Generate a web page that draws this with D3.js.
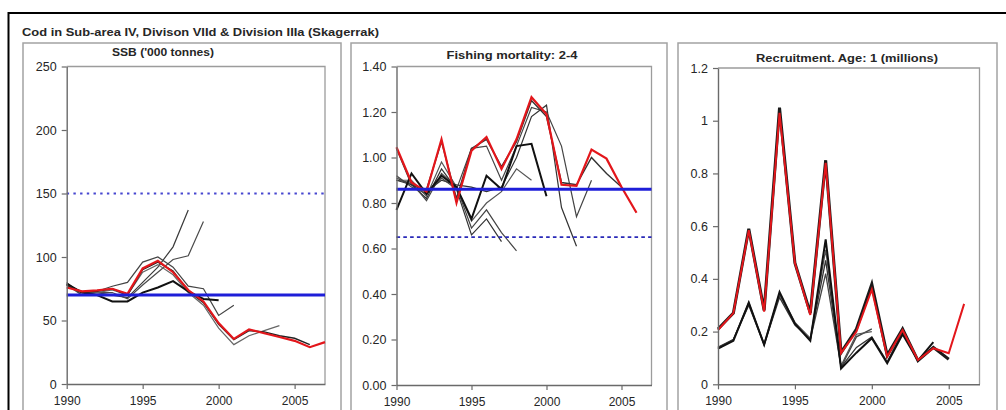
<!DOCTYPE html>
<html>
<head>
<meta charset="utf-8">
<script src="https://cdn.jsdelivr.net/npm/d3@7/dist/d3.min.js"></script>
<style>
  html, body { margin: 0; padding: 0; background: #fff; }
  svg { display: block; }
  text { font-family: "Liberation Sans", Arial, sans-serif; fill: #262626; }
</style>
</head>
<body>
<svg id="chart" width="1006" height="410"></svg>
<script>
// ---- Data -------------------------------------------------------------
const startYear = 1990;
const yearTicks = [1990, 1995, 2000, 2005];

// Spawning stock biomass ('000 tonnes), one array per assessment
const ssbLatest = [76, 73, 73.7, 75, 71, 91, 97, 88, 74, 65, 48, 35.5, 43, 40, 37, 34, 29, 33];
const ssbPrev   = [78, 72, 73, 75, 70, 90, 96, 89, 73, 64, 47, 35, 42, 41, 38, 36, 31];
const ssbR1998  = [79, 72, 72, 70, 68, 80, 92, 108, 137];
const ssbR1999  = [78, 70, 72, 72, 67, 78, 88, 98, 101, 128];
const ssbR2000  = [79, 72, 70, 65, 65, 72, 76, 81, 73, 67, 66];
const ssbR2001  = [80, 70, 73, 77, 80, 96, 100, 92, 77, 75, 54, 62];
const ssbR2004  = [78, 73, 72, 74, 70, 88, 94, 86, 72, 62, 44, 31, 38, 42, 46];
const ssbBlim = 70;
const ssbBpa = 150;
const ssbTicks = [0, 50, 100, 150, 200, 250];

// Fishing mortality, ages 2-4
const fLatest = [1.045, 0.89, 0.85, 1.08, 0.80, 1.03, 1.09, 0.95, 1.08, 1.265, 1.19, 0.88, 0.875, 1.035, 0.995, 0.87, 0.757];
const fPrev   = [1.04, 0.88, 0.86, 1.07, 0.82, 1.04, 1.08, 0.96, 1.07, 1.25, 1.18, 0.89, 0.88, 1.00, 0.93, 0.87];
const fR1997  = [0.91, 0.88, 0.82, 0.95, 0.86, 0.66, 0.73, 0.63];
const fR1998  = [0.90, 0.89, 0.81, 0.93, 0.87, 0.69, 0.77, 0.67, 0.59];
const fR1999  = [0.90, 0.90, 0.83, 0.98, 0.87, 0.72, 0.80, 0.85, 0.95, 0.90];
const fR2000  = [0.77, 0.93, 0.84, 0.92, 0.87, 0.73, 0.92, 0.86, 1.05, 1.06, 0.83];
const fR2002  = [0.90, 0.88, 0.85, 0.90, 0.88, 0.87, 0.85, 0.87, 1.00, 1.18, 1.23, 0.78, 0.61];
const fR2003  = [0.92, 0.87, 0.84, 0.91, 0.86, 1.04, 1.05, 0.90, 1.05, 1.22, 1.20, 1.05, 0.74, 0.90];
const fLim = 0.86;
const fPa = 0.65;
const fTicks = [0, 0.2, 0.4, 0.6, 0.8, 1.0, 1.2, 1.4];

// Recruitment at age 1 (millions)
const recLatest = [0.206, 0.27, 0.585, 0.276, 1.03, 0.46, 0.263, 0.84, 0.118, 0.2, 0.36, 0.105, 0.206, 0.092, 0.137, 0.118, 0.305];
const recPrev   = [0.21, 0.27, 0.59, 0.28, 1.05, 0.46, 0.27, 0.85, 0.12, 0.21, 0.38, 0.11, 0.21, 0.09, 0.14, 0.095];
const recR2000a = [0.135, 0.17, 0.31, 0.15, 0.34, 0.23, 0.17, 0.42, 0.065, 0.18, 0.21];
const recR2000b = [0.14, 0.17, 0.305, 0.155, 0.345, 0.235, 0.175, 0.51, 0.07, 0.19, 0.2];
const recR2002  = [0.14, 0.17, 0.30, 0.15, 0.33, 0.225, 0.17, 0.47, 0.065, 0.14, 0.18, 0.085, 0.2];
const recR2004  = [0.135, 0.165, 0.31, 0.15, 0.35, 0.23, 0.165, 0.55, 0.06, 0.12, 0.175, 0.08, 0.19, 0.09, 0.16];
const recTicks = [0, 0.2, 0.4, 0.6, 0.8, 1.0, 1.2];

// ---- Drawing ----------------------------------------------------------
const svg = d3.select("#chart");
const RED = "#e3161b";
const BLUE = "#1e1ed8";

// outer frame (left and top edges)
svg.append("path")
  .attr("d", "M8.5,430 L8.5,13 L1030,13")
  .attr("fill", "none").attr("stroke", "#000").attr("stroke-width", 2);

svg.append("text")
  .attr("x", 22).attr("y", 36)
  .attr("font-size", 11).attr("font-weight", "bold")
  .attr("textLength", 357).attr("lengthAdjust", "spacingAndGlyphs")
  .text("Cod in Sub-area IV, Divison VIId & Division IIIa (Skagerrak)");

const toPoints = arr => arr.map((v, i) => ({ year: startYear + i, v }));

function panel(cfg) {
  const g = svg.append("g");
  // panel box
  g.append("rect")
    .attr("x", cfg.box[0]).attr("y", 43)
    .attr("width", cfg.box[1] - cfg.box[0]).attr("height", 400)
    .attr("fill", "none").attr("stroke", "#a3a3a3").attr("stroke-width", 1.5);

  const x = d3.scaleLinear().domain([1990, 2007]).range(cfg.xr);
  const y = d3.scaleLinear().domain([0, cfg.ymax]).range(cfg.yr);

  // plot frame (top and right edges)
  g.append("path")
    .attr("d", `M${cfg.xr[0]},${cfg.yr[1]} L${cfg.xr[1]},${cfg.yr[1]} L${cfg.xr[1]},${cfg.yr[0]}`)
    .attr("fill", "none").attr("stroke", "#9c9c9c").attr("stroke-width", 1.3);

  const line = d3.line().x(d => x(d.year)).y(d => y(d.v));

  cfg.series.forEach(s => {
    g.append("path")
      .datum(toPoints(s.values))
      .attr("d", line)
      .attr("fill", "none")
      .attr("stroke", s.color)
      .attr("stroke-width", s.width)
      .attr("stroke-linejoin", "miter");
  });

  (cfg.refs || []).forEach(r => {
    g.append("line")
      .attr("x1", cfg.xr[0]).attr("x2", cfg.xr[1])
      .attr("y1", y(r.value)).attr("y2", y(r.value))
      .attr("stroke", r.color).attr("stroke-width", r.width)
      .attr("stroke-dasharray", r.dash || null);
  });

  const yAxis = d3.axisLeft(y).tickValues(cfg.yticks).tickFormat(cfg.yfmt)
    .tickSize(5).tickSizeOuter(0).tickPadding(5);
  const gy = g.append("g").attr("transform", `translate(${cfg.xr[0]},0)`).call(yAxis);
  gy.selectAll("text").attr("font-size", 12.5).attr("font-family", null).attr("fill", "#262626");

  const xAxis = d3.axisBottom(x).tickValues(yearTicks).tickFormat(d3.format("d"))
    .tickSize(5).tickSizeOuter(0).tickPadding(7);
  const gx = g.append("g").attr("transform", `translate(0,${cfg.yr[0]})`).call(xAxis);
  gx.selectAll("text").attr("font-size", 12).attr("font-family", null).attr("fill", "#262626");

  [gx, gy].forEach(a => {
    a.select(".domain").attr("stroke", "#6a6a6a").attr("stroke-width", 1.4);
    a.selectAll(".tick line").attr("stroke", "#6a6a6a").attr("stroke-width", 1.2);
  });

  g.append("text")
    .attr("x", cfg.titleX).attr("y", cfg.titleY)
    .attr("text-anchor", "middle")
    .attr("font-size", 11).attr("font-weight", "bold")
    .attr("textLength", cfg.titleW).attr("lengthAdjust", "spacingAndGlyphs")
    .text(cfg.title);
}

panel({
  box: [23, 341], xr: [66.7, 325], yr: [384, 66.5], ymax: 250,
  yticks: ssbTicks, yfmt: d3.format("d"),
  title: "SSB ('000 tonnes)", titleX: 163, titleY: 56, titleW: 102,
  series: [
    { values: ssbR1998, color: "#3a3a3a", width: 1.2 },
    { values: ssbR1999, color: "#4a4a4a", width: 1.2 },
    { values: ssbR2001, color: "#444", width: 1.2 },
    { values: ssbR2004, color: "#666", width: 1.2 },
    { values: ssbR2000, color: "#111", width: 2 },
    { values: ssbPrev, color: "#222", width: 1.4 },
    { values: ssbLatest, color: RED, width: 2.2 }
  ],
  refs: [
    { value: ssbBlim, color: BLUE, width: 3 },
    { value: ssbBpa, color: "#4646d0", width: 1.8, dash: "2.4,4.3" }
  ]
});

panel({
  box: [351, 667], xr: [396.5, 651.5], yr: [385, 66.5], ymax: 1.4,
  yticks: fTicks, yfmt: d3.format(".2f"),
  title: "Fishing mortality: 2-4", titleX: 512, titleY: 59, titleW: 131,
  series: [
    { values: fR1997, color: "#333", width: 1.2 },
    { values: fR1998, color: "#444", width: 1.2 },
    { values: fR1999, color: "#555", width: 1.2 },
    { values: fR2002, color: "#333", width: 1.2 },
    { values: fR2003, color: "#444", width: 1.2 },
    { values: fR2000, color: "#111", width: 2 },
    { values: fPrev, color: "#333", width: 1.4 },
    { values: fLatest, color: RED, width: 2.2 }
  ],
  refs: [
    { value: fLim, color: BLUE, width: 3 },
    { value: fPa, color: "#2a2ab8", width: 1.8, dash: "3.6,3.2" }
  ]
});

panel({
  box: [678, 997], xr: [718, 979.5], yr: [384.3, 68], ymax: 1.2,
  yticks: recTicks, yfmt: d => String(+d.toFixed(1)),
  title: "Recruitment. Age: 1 (millions)", titleX: 847, titleY: 62, titleW: 182,
  series: [
    { values: recR2000a, color: "#444", width: 1.3 },
    { values: recR2000b, color: "#555", width: 1.3 },
    { values: recR2002, color: "#333", width: 1.3 },
    { values: recR2004, color: "#111", width: 2 },
    { values: recPrev, color: "#1a1a1a", width: 3 },
    { values: recLatest, color: RED, width: 2 }
  ]
});
</script>
</body>
</html>
